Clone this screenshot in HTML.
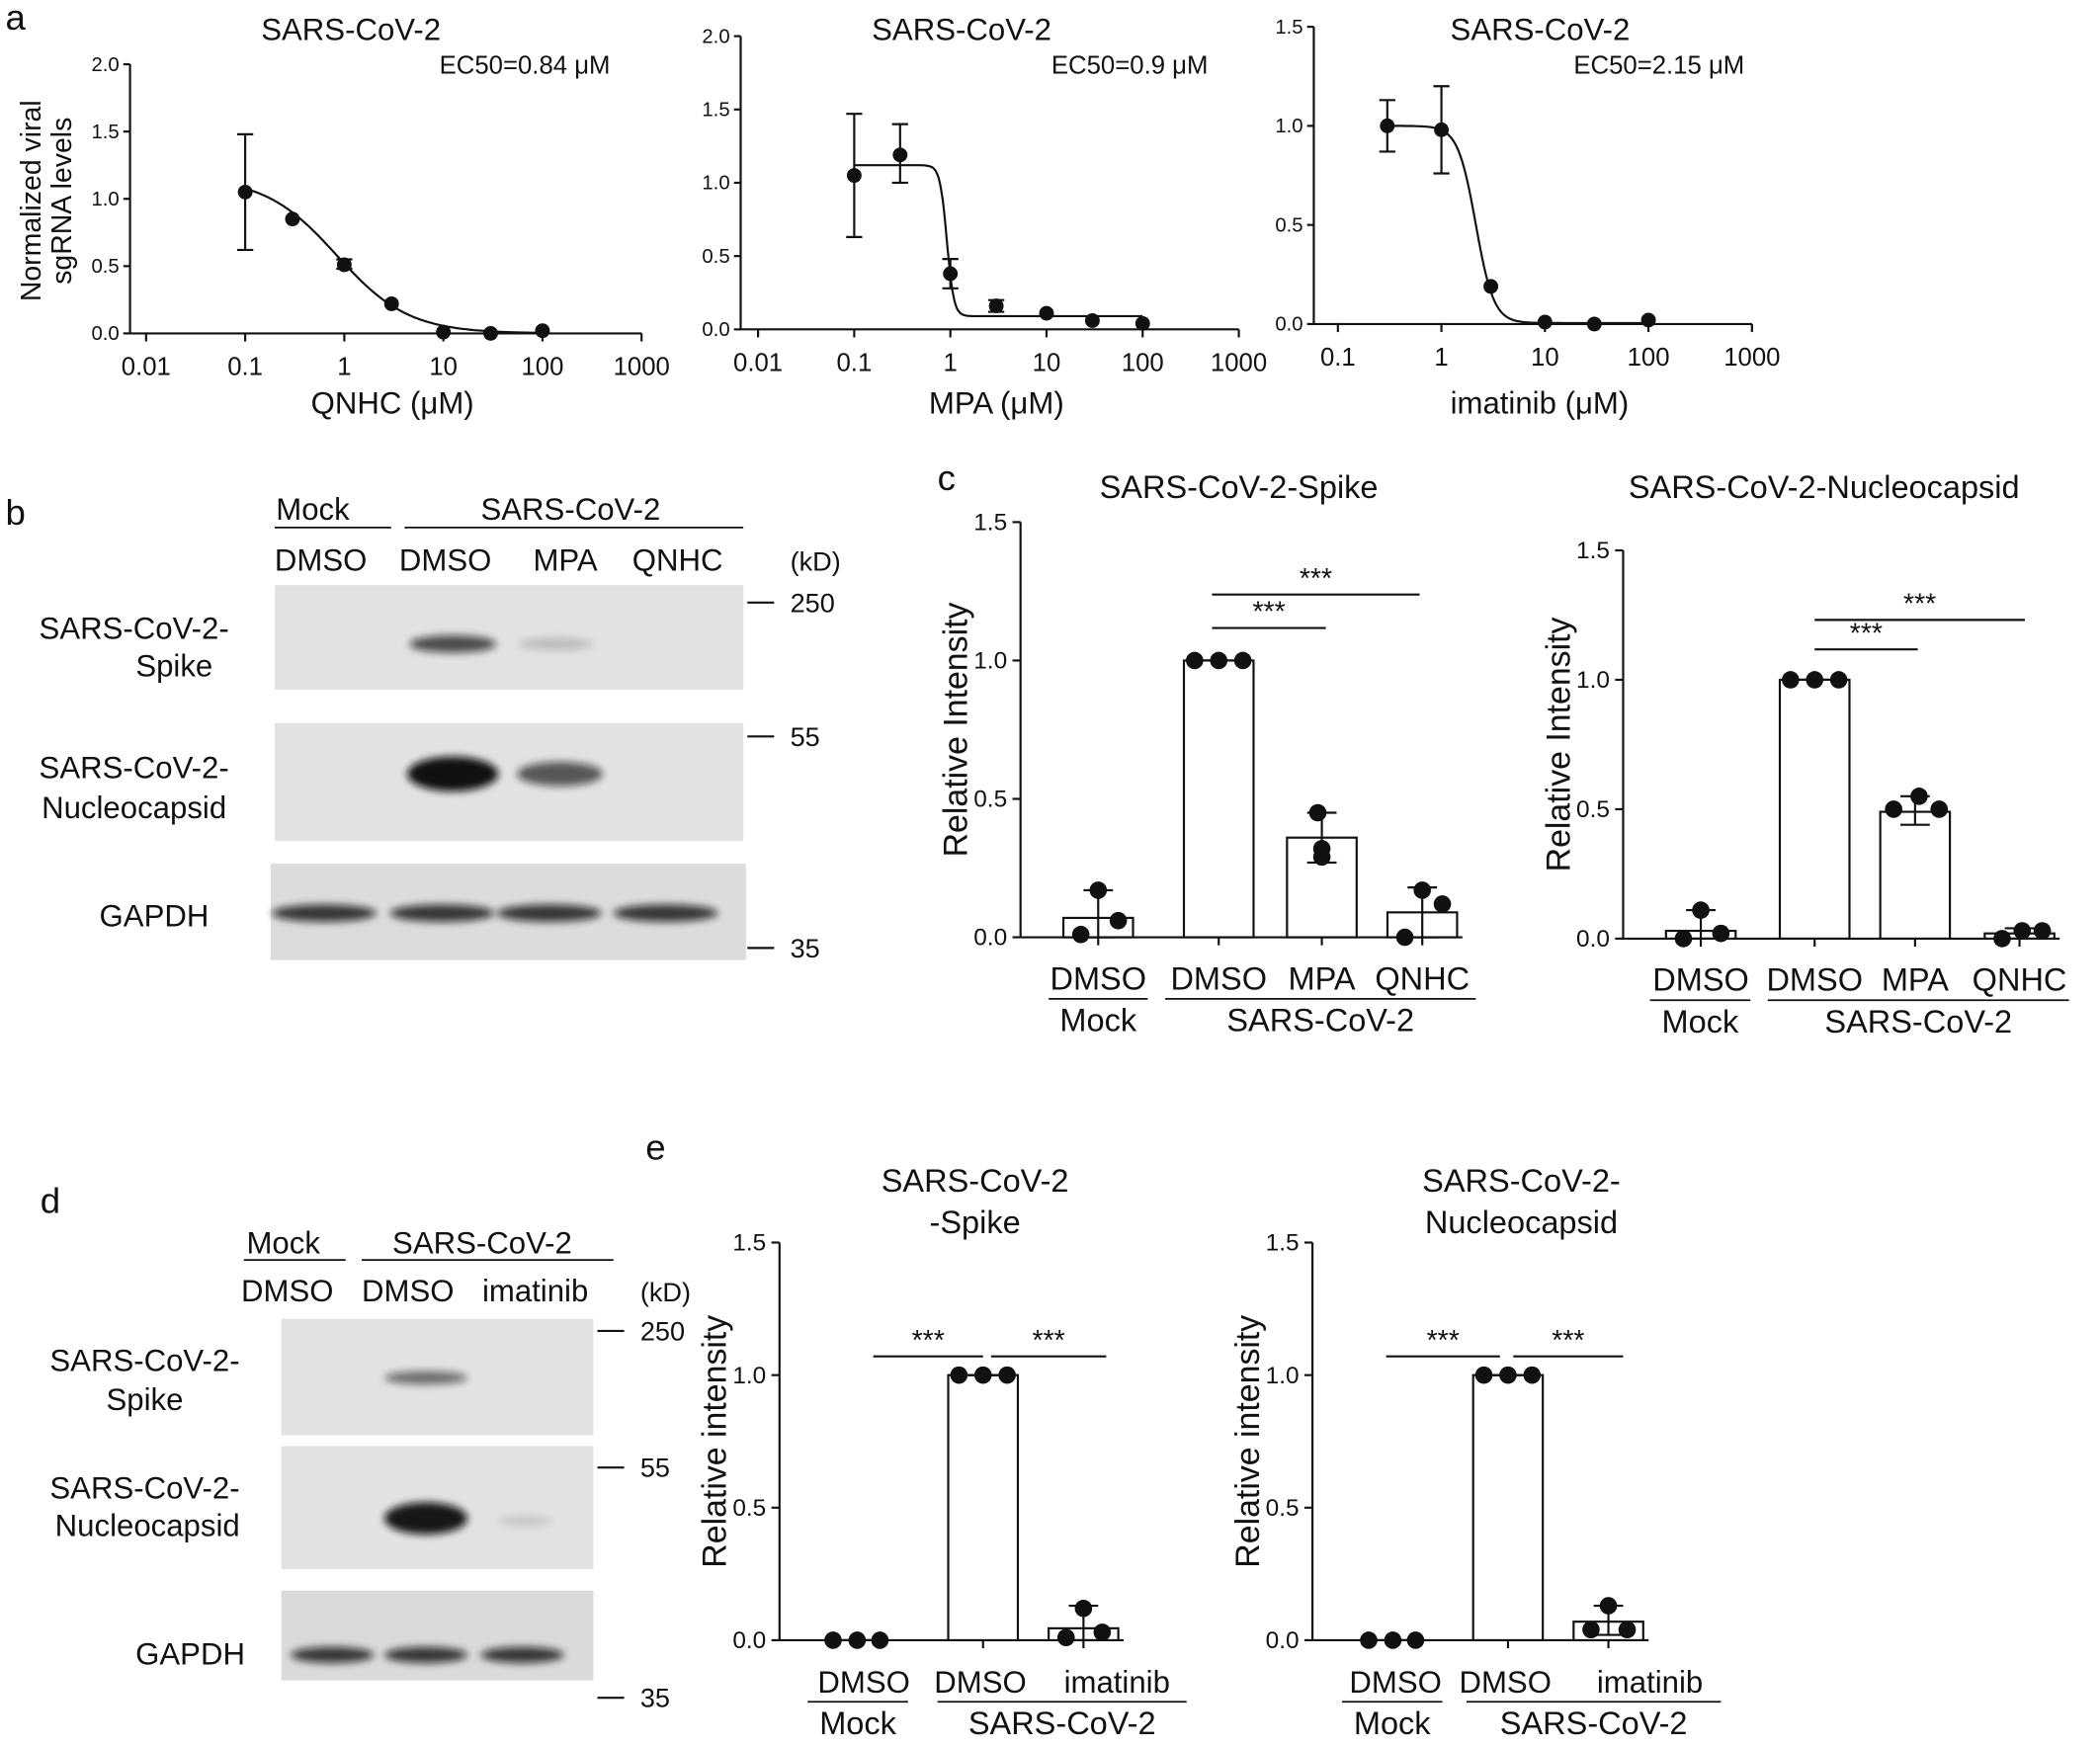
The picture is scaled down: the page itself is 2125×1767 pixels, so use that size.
<!DOCTYPE html>
<html><head><meta charset="utf-8"><style>
html,body{margin:0;padding:0;background:#fff;}
svg{display:block;}
text{font-family:"Liberation Sans",Arial,sans-serif;fill:#111;}
</style></head><body>
<svg id="s" width="2125" height="1767" viewBox="0 0 1568 1304" xmlns="http://www.w3.org/2000/svg">
<defs>
<filter id="bl" x="-30%" y="-100%" width="160%" height="300%"><feGaussianBlur stdDeviation="3"/></filter>
</defs>
</svg>
<script>
const S=document.getElementById('s');let h='';
function T(x,y,t,sz,anc,extra){h+=`<text x="${x}" y="${y}" font-size="${sz}" text-anchor="${anc||'start'}" ${extra||''}>${t}</text>`;}
function L(x1,y1,x2,y2,w){h+=`<line x1="${x1}" y1="${y1}" x2="${x2}" y2="${y2}" stroke="#111" stroke-width="${w||1.6}"/>`;}
function C(x,y,r){h+=`<circle cx="${x}" cy="${y}" r="${r||5.5}" fill="#111"/>`;}
function dr(o){
 const {ax,y0,uy,ymax,ystep,dec0,xd,decs,pts,fit,title,ec,xl,tx,ecx}=o;
 const X=v=>xd[0]+(Math.log10(v)-dec0)*(xd[1]);
 const Y=v=>y0-v*uy;
 const xend=X(Math.pow(10,dec0+decs));
 L(ax,y0,xend,y0);L(ax,Y(ymax),ax,y0);
 for(let v=0;v<=ymax+1e-9;v+=ystep){L(ax-5,Y(v),ax,Y(v));T(ax-8,Y(v)+5,v.toFixed(1),15,'end');}
 for(let d=0;d<=decs;d++){const v=Math.pow(10,dec0+d);const x=X(v);L(x,y0,x,y0+6);
  let lab=v<1?(v==0.01?'0.01':'0.1'):String(Math.round(v));T(x,y0+31,lab,19,'middle');}
 let p='';for(let i=0;i<=300;i++){const lv=Math.log10(pts[0][0])+i/300*(Math.log10(pts[pts.length-1][0])-Math.log10(pts[0][0]));const v=Math.pow(10,lv);
  const yv=fit.b+(fit.t-fit.b)/(1+Math.pow(v/fit.e,fit.h));p+=(i?'L':'M')+X(v).toFixed(1)+','+Y(yv).toFixed(1);}
 h+=`<path d="${p}" fill="none" stroke="#111" stroke-width="1.6"/>`;
 pts.forEach(q=>{const x=X(q[0]);if(q[2]!=null){L(x,Y(q[2]),x,Y(q[3]));L(x-6,Y(q[2]),x+6,Y(q[2]));L(x-6,Y(q[3]),x+6,Y(q[3]));}C(x,Y(q[1]));});
 T(tx,30,title,23,'middle');T(ecx,55,ec,19,'start');T((ax+xend)/2+5,309,xl,23,'middle');
}
dr({ax:97,y0:249,uy:100.5,ymax:2.0,ystep:0.5,dec0:-2,xd:[109,74],decs:5,title:'SARS-CoV-2',tx:262,ecx:328,ec:'EC50=0.84 μM',xl:'QNHC (μM)',
 pts:[[0.1,1.05,0.62,1.48],[0.3,0.85],[1,0.51,0.48,0.55],[3,0.22],[10,0.01],[30,0.0],[100,0.02]],fit:{t:1.16,b:0,e:0.84,h:1.2}});
dr({ax:553,y0:246,uy:109.5,ymax:2.0,ystep:0.5,dec0:-2,xd:[566,71.8],decs:5,title:'SARS-CoV-2',tx:718,ecx:785,ec:'EC50=0.9 μM',xl:'MPA (μM)',
 pts:[[0.1,1.05,0.63,1.47],[0.3,1.19,1.0,1.4],[1,0.38,0.28,0.48],[3,0.16,0.12,0.2],[10,0.11],[30,0.06],[100,0.04]],fit:{t:1.12,b:0.09,e:0.92,h:12}});
dr({ax:981,y0:242,uy:148,ymax:1.5,ystep:0.5,dec0:-1,xd:[999,77.3],decs:4,title:'SARS-CoV-2',tx:1150,ecx:1175,ec:'EC50=2.15 μM',xl:'imatinib (μM)',
 pts:[[0.3,1.0,0.87,1.13],[1,0.98,0.76,1.2],[3,0.19],[10,0.01],[30,0.0],[100,0.02]],fit:{t:1.0,b:0.005,e:2.15,h:5}});
T(4,22,'a',27);
h+='<text x="30" y="150" font-size="21" text-anchor="middle" transform="rotate(-90 30 150)">Normalized viral</text>';
h+='<text x="53" y="150" font-size="21" text-anchor="middle" transform="rotate(-90 53 150)">sgRNA levels</text>';
function box(x,y,w,hh,c){h+=`<rect x="${x}" y="${y}" width="${w}" height="${hh}" fill="${c||'#e2e2e2'}"/>`;}
function band(cx,cy,w,hh,op){h+=`<ellipse cx="${cx}" cy="${cy}" rx="${w/2}" ry="${hh/2}" fill="#111" opacity="${op}" filter="url(#bl)"/>`;}
T(4,392,'b',27);
T(206,388,'Mock',23);L(205,394,292,394,1.3);T(426,388,'SARS-CoV-2',23,'middle');L(302,394,555,394,1.3);
T(205,426,'DMSO',23);T(298,426,'DMSO',23);T(398,426,'MPA',23);T(472,426,'QNHC',23);T(590,426,'(kD)',20);
box(205,437,350,78);band(338,481,65,13,0.7);band(415,481,55,9,0.18);
box(205,540,350,88);band(338,578,68,26,0.98);band(418,578,64,18,0.65);
box(202,645,355,72,'#dcdcdc');[242,330,410,497].forEach(x=>band(x,682,78,13,0.8));
L(558,450,578,450);T(590,457,'250',20);L(558,550,578,550);T(590,557,'55',20);L(558,708,578,708);T(590,715,'35',20);
T(100,477,'SARS-CoV-2-',23,'middle');T(130,505,'Spike',23,'middle');T(100,581,'SARS-CoV-2-',23,'middle');T(100,611,'Nucleocapsid',23,'middle');T(115,692,'GAPDH',23,'middle');
T(30,906,'d',27);
T(184,936,'Mock',23);L(182,941,258,941,1.3);T(360,936,'SARS-CoV-2',23,'middle');L(270,941,458,941,1.3);
T(180,972,'DMSO',23);T(270,972,'DMSO',23);T(360,972,'imatinib',23);T(478,972,'(kD)',20);
box(210,985,233,87);band(318,1029,62,10,0.55);
box(210,1080,233,92);band(318,1134,62,24,0.95);band(392,1136,40,8,0.12);
box(210,1188,233,67,'#dadada');[248,318,390].forEach(x=>band(x,1236,62,12,0.8));
L(446,994,466,994);T(478,1001,'250',20);L(446,1096,466,1096);T(478,1103,'55',20);L(446,1268,466,1268);T(478,1275,'35',20);
T(108,1024,'SARS-CoV-2-',23,'middle');T(108,1053,'Spike',23,'middle');T(108,1119,'SARS-CoV-2-',23,'middle');T(110,1147,'Nucleocapsid',23,'middle');T(142,1243,'GAPDH',23,'middle');
function bars(o){
 const {ax,y0,uy,xs,vals,dots,errs,title,tx,ty,sig,labs,mockx,sarsx,ylab,lsz}=o;
 const Y=v=>y0-v*uy;const xe=xs[xs.length-1]+30;
 L(ax,Y(1.5),ax,y0);L(ax,y0,xe,y0);
 for(let v=0;v<=1.5001;v+=0.5){L(ax-6,Y(v),ax,Y(v));T(ax-10,Y(v)+6,v.toFixed(1),18,'end');}
 xs.forEach((x,i)=>{L(x,y0,x,y0+6);h+=`<rect x="${x-26}" y="${Y(vals[i])}" width="52" height="${vals[i]*uy}" fill="#fff" stroke="#111" stroke-width="1.6"/>`;
  const e=errs[i];L(x,Y(e[0]),x,Y(e[1]));L(x-11,Y(e[0]),x+11,Y(e[0]));L(x-11,Y(e[1]),x+11,Y(e[1]));
  dots[i].forEach(d=>C(x+d[0],Y(d[1]),6.5));});
 sig.forEach(s=>{L(s[0],s[2],s[1],s[2]);T((s[0]+s[1])/2,s[2]-5,'***',21,'middle');});
 title.forEach((t,i)=>T(tx,ty+i*31,t,24,'middle'));
 h+=`<text x="${ax-40}" y="${(Y(1.5)+y0)/2}" font-size="25" text-anchor="middle" transform="rotate(-90 ${ax-40} ${(Y(1.5)+y0)/2})">${ylab}</text>`;
 labs.forEach((l,i)=>T(l[1]!=null?l[1]:xs[i],y0+39,l[0],lsz||24,'middle'));
 L(mockx[0],y0+46,mockx[1],y0+46,1.3);T((mockx[0]+mockx[1])/2,y0+70,'Mock',24,'middle');
 L(sarsx[0],y0+46,sarsx[1],y0+46,1.3);T((sarsx[0]+sarsx[1])/2,y0+70,'SARS-CoV-2',24,'middle');
}
T(700,366,'c',27);
bars({ax:762,y0:700,uy:206.7,xs:[820,910,987,1062],vals:[0.07,1.0,0.36,0.09],
 errs:[[0,0.17],[1,1],[0.27,0.45],[0,0.18]],dots:[[[-13,0.01],[0,0.17],[15,0.06]],[[-18,1],[0,1],[18,1]],[[-3,0.45],[0,0.29],[0,0.32]],[[-13,0.0],[0,0.17],[15,0.12]]],
 sig:[[905,990,469],[905,1060,444]],title:['SARS-CoV-2-Spike'],tx:925,ty:372,ylab:'Relative Intensity',labs:[['DMSO'],['DMSO'],['MPA'],['QNHC']],mockx:[783,857],sarsx:[870,1102]});
bars({ax:1212,y0:701,uy:193.3,xs:[1270,1355,1430,1508],vals:[0.03,1.0,0.49,0.02],
 errs:[[0,0.11],[1,1],[0.44,0.55],[0,0.04]],dots:[[[-13,0.0],[0,0.11],[15,0.02]],[[-18,1],[0,1],[18,1]],[[-16,0.5],[3,0.55],[18,0.5]],[[-13,0.0],[2,0.03],[17,0.03]]],
 sig:[[1355,1432,485],[1355,1512,463]],title:['SARS-CoV-2-Nucleocapsid'],tx:1362,ty:372,ylab:'Relative Intensity',labs:[['DMSO'],['DMSO'],['MPA'],['QNHC']],mockx:[1232,1307],sarsx:[1320,1545]});
T(482,866,'e',27);
bars({ax:582,y0:1225,uy:198,xs:[640,734,809],vals:[0.0,1.0,0.045],lsz:23,
 errs:[[0,0],[1,1],[0,0.13]],dots:[[[-18,0],[0,0],[17,0]],[[-18,1],[0,1],[18,1]],[[-13,0.01],[0,0.12],[14,0.03]]],
 sig:[[652,734,1013],[740,826,1013]],title:['SARS-CoV-2','-Spike'],tx:728,ty:890,ylab:'Relative intensity',labs:[['DMSO',645],['DMSO',732],['imatinib',834]],mockx:[603,678],sarsx:[700,886]});
bars({ax:980,y0:1225,uy:198,xs:[1040,1126,1201],vals:[0.0,1.0,0.07],lsz:23,
 errs:[[0,0],[1,1],[0.02,0.13]],dots:[[[-18,0],[0,0],[17,0]],[[-18,1],[0,1],[18,1]],[[-13,0.04],[0,0.13],[14,0.04]]],
 sig:[[1035,1120,1013],[1130,1212,1013]],title:['SARS-CoV-2-','Nucleocapsid'],tx:1136,ty:890,ylab:'Relative intensity',labs:[['DMSO',1042],['DMSO',1124],['imatinib',1232]],mockx:[1002,1077],sarsx:[1095,1285]});
S.innerHTML+=h;
</script>
</body></html>
